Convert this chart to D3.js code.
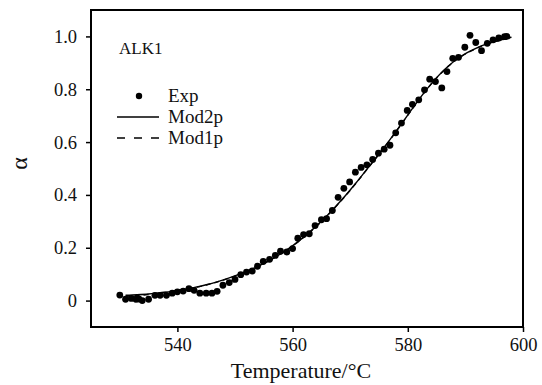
<!DOCTYPE html>
<html><head><meta charset="utf-8">
<script src="https://cdn.jsdelivr.net/npm/d3@7/dist/d3.min.js"></script>
<style>body{margin:0;background:#fff}svg{display:block}</style>
</head><body><svg id="c" width="542" height="385"></svg>
<script>
// Experimental data
const expT = [530.0,531.0,532.0,532.8,533.3,533.9,535.0,536.1,537.0,538.1,539.1,540.0,541.0,542.0,542.9,543.9,545.0,546.0,546.9,547.9,549.0,550.0,551.0,552.0,553.0,553.9,554.9,556.0,557.0,557.9,559.0,560.0,560.9,561.9,562.9,563.9,565.0,565.9,566.9,567.9,568.9,569.9,570.9,571.9,572.9,573.9,574.9,575.9,576.9,577.9,578.9,579.9,580.8,581.9,582.9,583.8,584.8,585.9,586.8,587.8,588.8,589.9,590.8,591.8,592.8,593.8,594.8,595.8,596.8,597.2];
const expA = [0.021,0.005,0.008,0.005,0.006,0.0,0.005,0.02,0.02,0.02,0.028,0.033,0.036,0.045,0.039,0.028,0.028,0.028,0.035,0.058,0.068,0.08,0.098,0.108,0.112,0.13,0.148,0.156,0.171,0.187,0.184,0.197,0.236,0.25,0.253,0.284,0.306,0.31,0.341,0.391,0.425,0.449,0.486,0.504,0.514,0.534,0.558,0.573,0.588,0.635,0.672,0.72,0.743,0.76,0.798,0.838,0.829,0.805,0.867,0.917,0.921,0.959,1.004,0.977,0.946,0.974,0.987,0.994,0.999,1.0];
// Model curves
const modT  = [531,533,535,537,539,541,543,545,547,549,551,553,555,557,559,561,563,565,567,569,571,573,575,577,579,581,583,585,587,589,591,593,595,597,598];
const mod2p = [0.020,0.022,0.025,0.030,0.035,0.042,0.050,0.060,0.072,0.086,0.102,0.120,0.141,0.165,0.192,0.224,0.260,0.300,0.345,0.393,0.445,0.500,0.555,0.612,0.672,0.733,0.792,0.844,0.887,0.921,0.946,0.966,0.980,0.992,0.997];
const mod1p = [0.016,0.019,0.023,0.028,0.034,0.041,0.049,0.059,0.071,0.085,0.101,0.119,0.140,0.164,0.191,0.223,0.259,0.299,0.344,0.392,0.444,0.499,0.554,0.611,0.671,0.732,0.791,0.843,0.886,0.920,0.945,0.965,0.979,0.991,0.996];
const xTicks = [540,560,580,600];
const yTicks = [0,0.2,0.4,0.6,0.8,1.0];
const legendLabels = ["Exp","Mod2p","Mod1p"];

const font = "'Liberation Serif','Times New Roman',serif";
const svg = d3.select("#c");
const L=91, R=523, T=10, B=327;
const x = d3.scaleLinear().domain([525,600]).range([L,R]);
const y = d3.scaleLinear().domain([-0.1,1.1]).range([B,T]);

// axes
const xa = svg.append("g").attr("transform",`translate(0,${B})`)
  .call(d3.axisBottom(x).tickValues(xTicks).tickSize(5).tickPadding(6).tickFormat(d3.format("d")));
const ya = svg.append("g").attr("transform",`translate(${L},0)`)
  .call(d3.axisLeft(y).tickValues(yTicks).tickSize(5).tickPadding(9).tickFormat(d=>d===0?"0":d.toFixed(1)));
[xa,ya].forEach(a=>{
  a.select(".domain").remove();
  a.selectAll("line").attr("stroke","#000").attr("stroke-width",1.5);
  a.selectAll("text").attr("font-family",font).attr("font-size",18.5).attr("fill","#111");
});

// frame
svg.append("rect").attr("x",L).attr("y",T).attr("width",R-L).attr("height",B-T)
  .attr("fill","none").attr("stroke","#000").attr("stroke-width",2);

// model lines
const line = d3.line().x((d,i)=>x(modT[i])).y(d=>y(d)).curve(d3.curveMonotoneX);
svg.append("path").attr("d",line(mod1p)).attr("fill","none").attr("stroke","#000")
  .attr("stroke-width",1.4).attr("stroke-dasharray","5,4");
svg.append("path").attr("d",line(mod2p)).attr("fill","none").attr("stroke","#000")
  .attr("stroke-width",1.4);

// points
svg.append("g").selectAll("circle").data(expA).join("circle")
  .attr("cx",(d,i)=>x(expT[i])).attr("cy",d=>y(d)).attr("r",3.4).attr("fill","#000");

// labels
svg.append("text").attr("x",119).attr("y",54).attr("font-family",font).attr("font-size",17).attr("fill","#111").text("ALK1");
const lg = svg.append("g");
lg.append("circle").attr("cx",139).attr("cy",96).attr("r",3.2).attr("fill","#000");
lg.append("line").attr("x1",117).attr("x2",159).attr("y1",117).attr("y2",117).attr("stroke","#000").attr("stroke-width",1.4);
lg.append("line").attr("x1",117).attr("x2",159).attr("y1",138).attr("y2",138).attr("stroke","#000").attr("stroke-width",1.4).attr("stroke-dasharray","8,9");
legendLabels.forEach((t,i)=>{
  lg.append("text").attr("x",168).attr("y",102+i*21).attr("font-family",font).attr("font-size",19).attr("fill","#111").text(t);
});

svg.append("text").attr("x",301).attr("y",378).attr("text-anchor","middle")
  .attr("font-family",font).attr("font-size",22).attr("fill","#111").text("Temperature/°C");
svg.append("text").attr("transform",`translate(27,${(T+B)/2 - 5}) rotate(-90)`).attr("text-anchor","middle")
  .attr("font-family",font).attr("font-size",24).attr("fill","#111").text("α");
</script></body></html>
